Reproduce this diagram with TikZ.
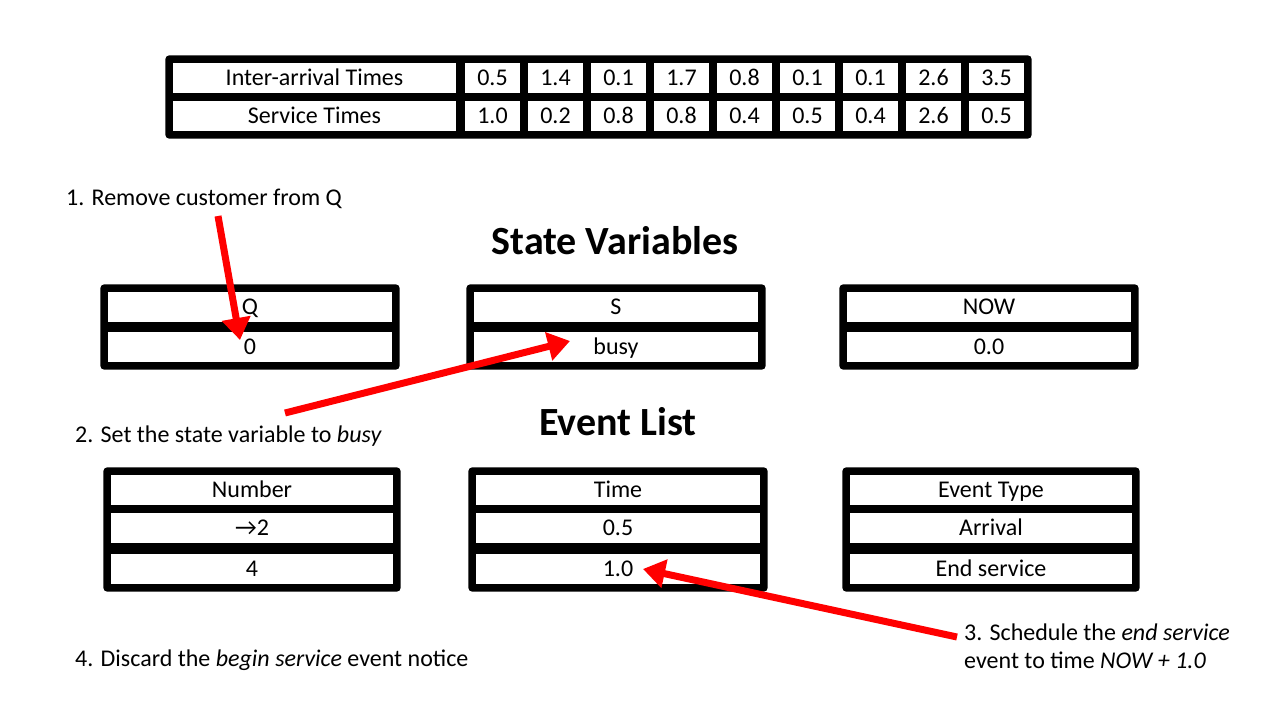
\documentclass[tikz,border=0pt]{standalone}
\usepackage{fontspec}
\setmainfont{Carlito}
\usetikzlibrary{arrows.meta,backgrounds,fit}
\definecolor{markred}{rgb}{1,0,0}
\tikzset{
  cell/.style={
    fill=white,
    inner sep=0pt,
    minimum height=30pt,
    text height=15.5pt,
    text depth=0pt,
    font=\fontsize{24}{28}\selectfont
  },
  frame/.style={
    fill=black,
    rounded corners=4pt,
    inner sep=7.5pt
  },
  heading/.style={
    anchor=base,
    inner sep=0pt,
    font=\fontsize{40}{46}\selectfont\bfseries
  },
  note/.style={
    anchor=base west,
    inner sep=0pt,
    align=left,
    font=\fontsize{24}{28}\selectfont
  },
  arrow/.style={
    -{Triangle[length=22pt,width=28pt]},
    line width=7pt,
    markred
  }
}

\begin{document}
\begin{tikzpicture}[x=1pt,y=-1pt]
\useasboundingbox (0,0) rectangle (1280,720);
% table of times
\node[cell,minimum width=283pt] (ialab) at (314.5,78) {Inter-arrival Times};
\node[cell,minimum width=283pt] (stlab) at (314.5,116) {Service Times};
\foreach \a/\s [count=\i from 0] in {0.5/1.0,1.4/0.2,0.1/0.8,1.7/0.8,0.8/0.4,0.1/0.5,0.1/0.4,2.6/2.6,3.5/0.5} {
  \node[cell,minimum width=55pt] (ia\i) at (492.5+63*\i,78) {\a};
  \node[cell,minimum width=55pt] (st\i) at (492.5+63*\i,116) {\s};
}
% state variables
\node[heading] (svtitle) at (615,254) {State Variables};
\node[cell,minimum width=284pt] (qh) at (250,307) {Q};
\node[cell,minimum width=284pt] (qv) at (250,347) {0};
\node[cell,minimum width=284pt] (sh) at (616,307) {S};
\node[cell,minimum width=284pt] (sv) at (616,347) {busy};
\node[cell,minimum width=284pt] (nowh) at (989,307) {NOW};
\node[cell,minimum width=284pt] (nowv) at (989,347) {0.0};
% event list
\node[heading] (eltitle) at (618,435) {Event List};
\node[cell,minimum width=282pt] (numh) at (252,490) {Number};
\node[cell,minimum width=282pt] (num1) at (252,528) {→2};
\node[cell,minimum width=282pt] (num2) at (252,569) {4};
\node[cell,minimum width=284pt] (timeh) at (618,490) {Time};
\node[cell,minimum width=284pt] (time1) at (618,528) {0.5};
\node[cell,minimum width=284pt] (time2) at (618,569) {1.0};
\node[cell,minimum width=282pt] (typeh) at (991,490) {Event Type};
\node[cell,minimum width=282pt] (type1) at (991,528) {Arrival};
\node[cell,minimum width=282pt] (type2) at (991,569) {End service};
\begin{scope}[on background layer]
  \node[frame,fit=(ialab)(st8)] (tabframe) {};
  \node[frame,fit=(qh)(qv)] (qframe) {};
  \node[frame,fit=(sh)(sv)] (sframe) {};
  \node[frame,fit=(nowh)(nowv)] (nowframe) {};
  \node[frame,fit=(numh)(num2)] (numframe) {};
  \node[frame,fit=(timeh)(time2)] (timeframe) {};
  \node[frame,fit=(typeh)(type2)] (typeframe) {};
\end{scope}
% notes
\node[note] (n1) at (66,205) {1. Remove customer from Q};
\node[note] (n2) at (75,442) {2. Set the state variable to \textit{busy}};
\node[note] (n3) at (964,668) {3. Schedule the \textit{end service}\\event to time \textit{NOW + 1.0}};
\node[note] (n4) at (75,666) {4. Discard the \textit{begin service} event notice};
% red arrows
\coordinate (a1s) at (218,216);
\coordinate (a1e) at (240,340);
\coordinate (a2s) at (285,413);
\coordinate (a2e) at (570,341);
\coordinate (a3s) at (957,637);
\coordinate (a3e) at (643,569);
\draw[arrow] (a1s) -- (a1e);
\draw[arrow] (a2s) -- (a2e);
\draw[arrow] (a3s) -- (a3e);
\end{tikzpicture}
\end{document}
